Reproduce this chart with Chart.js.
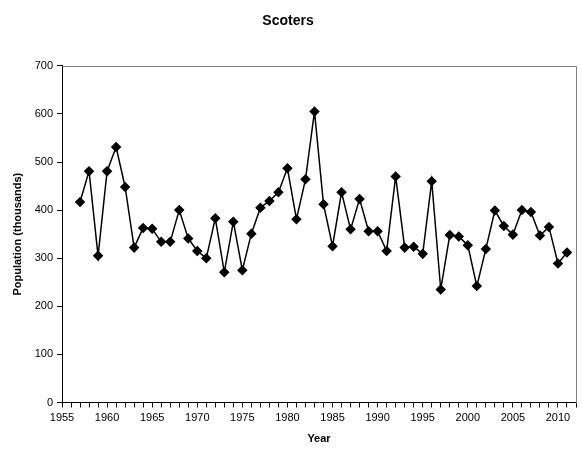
<!DOCTYPE html>
<html>
<head>
<meta charset="utf-8">
<script src="https://cdn.jsdelivr.net/npm/chart.js@4/dist/chart.umd.min.js"></script>
<style>
  html, body { margin: 0; padding: 0; background: #fff; }
  #wrap { width: 582px; height: 451px; }
</style>
</head>
<body>
<div id="wrap"><canvas id="c" width="582" height="451"></canvas></div>
<script>
const years = [1957,1958,1959,1960,1961,1962,1963,1964,1965,1966,1967,1968,1969,1970,1971,1972,1973,1974,1975,1976,1977,1978,1979,1980,1981,1982,1983,1984,1985,1986,1987,1988,1989,1990,1991,1992,1993,1994,1995,1996,1997,1998,1999,2000,2001,2002,2003,2004,2005,2006,2007,2008,2009,2010,2011];
const population = [417,481,305,481,531,448,322,363,361,334,334,400,341,315,300,383,271,376,275,351,405,419,437,487,381,464,605,412,325,437,360,423,356,356,315,470,322,324,309,460,235,348,345,327,242,319,399,367,349,400,396,347,365,289,312];
const xRange = [1955, 2012];
const yRange = [0, 700];
const chartTitle = "Scoters";
const xTitle = "Year";
const yTitle = "Population (thousands)";

const FONT = "'Liberation Sans', Arial, sans-serif";

const borderPlugin = {
  id: 'plotBorder',
  afterDatasetsDraw(chart) {
    const a = chart.chartArea, ctx = chart.ctx;
    ctx.save();
    ctx.strokeStyle = '#808080';
    ctx.lineWidth = 1;
    ctx.beginPath();
    ctx.moveTo(Math.round(a.left) + 0.5, Math.round(a.top) + 0.5);
    ctx.lineTo(Math.round(a.right) + 0.5, Math.round(a.top) + 0.5);
    ctx.lineTo(Math.round(a.right) + 0.5, Math.round(a.bottom) + 0.5);
    ctx.stroke();
    ctx.restore();
  }
};

new Chart(document.getElementById('c'), {
  type: 'line',
  data: {
    datasets: [{
      data: years.map((y, i) => ({ x: y, y: population[i] })),
      borderColor: '#000',
      backgroundColor: '#000',
      borderWidth: 1.5,
      pointStyle: 'rectRot',
      pointRadius: 4.2,
      pointHoverRadius: 4.2,
      pointBackgroundColor: '#000',
      pointBorderColor: '#000',
      tension: 0,
      fill: false
    }]
  },
  options: {
    responsive: false,
    animation: false,
    devicePixelRatio: 1,
    layout: { padding: { left: 0, right: 6, top: 0, bottom: 0 } },
    plugins: {
      legend: { display: false },
      tooltip: { enabled: false },
      title: {
        display: true,
        text: chartTitle,
        color: '#000',
        font: { family: FONT, size: 14, weight: 'bold' },
        padding: { top: 13, bottom: 36 }
      }
    },
    scales: {
      x: {
        type: 'linear',
        min: xRange[0],
        max: xRange[1],
        afterFit(scale) { scale.height = 48.5; },
        afterBuildTicks(scale) {
          const t = [];
          for (let v = xRange[0]; v <= xRange[1]; v++) t.push({ value: v });
          scale.ticks = t;
        },
        ticks: {
          autoSkip: false,
          maxRotation: 0,
          color: '#000',
          padding: 4,
          font: { family: FONT, size: 11 },
          callback: (v) => (v % 5 === 0 && v <= 2010) ? String(v) : ''
        },
        grid: { drawOnChartArea: false, drawTicks: true, tickLength: 5, color: '#000' },
        border: { display: true, color: '#000', width: 1 },
        title: {
          display: true,
          text: xTitle,
          color: '#000',
          font: { family: FONT, size: 11, weight: 'bold' },
          padding: { top: 4, bottom: 5 }
        }
      },
      y: {
        min: yRange[0],
        max: yRange[1],
        afterFit(scale) { scale.width = 62; },
        ticks: {
          stepSize: 100,
          color: '#000',
          padding: 4,
          font: { family: FONT, size: 11 }
        },
        grid: { drawOnChartArea: false, drawTicks: true, tickLength: 5, color: '#000' },
        border: { display: true, color: '#000', width: 1 },
        title: {
          display: true,
          text: yTitle,
          color: '#000',
          font: { family: FONT, size: 11, weight: 'bold' },
          padding: { top: 11, bottom: 4 }
        }
      }
    }
  },
  plugins: [borderPlugin]
});
</script>
</body>
</html>
